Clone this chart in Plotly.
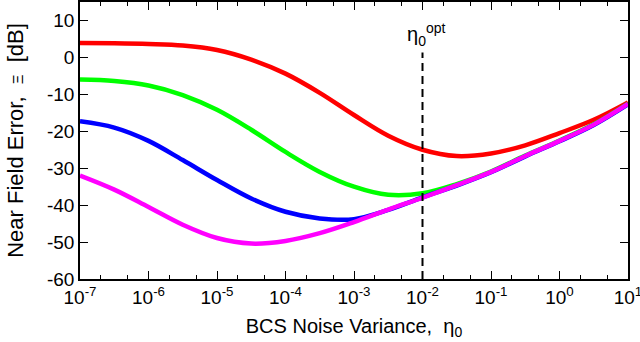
import numpy as np
import plotly.graph_objects as go

# x positions as log10 exponents of the BCS noise variance
log_eta = [-7, -6.5, -6, -5.5, -5, -4.5, -4, -3.5, -3, -2.5, -2, -1.5, -1, -0.5, 0, 0.5, 1]

err_red = [3.9, 3.8, 3.6, 3.2, 2.0, -0.6, -4.4, -9.6, -15.6, -21.2, -25.0, -26.7, -26.0, -23.8, -20.5, -16.9, -12.2]
err_green = [-6.0, -6.4, -7.6, -10.2, -14.2, -19.6, -25.6, -31.0, -35.0, -37.2, -36.8, -34.3, -30.9, -26.6, -22.5, -18.1, -12.5]
err_blue = [-17.3, -19.0, -22.6, -27.8, -33.2, -38.2, -41.8, -43.6, -43.8, -41.3, -37.9, -34.7, -31.1, -26.8, -22.7, -18.3, -12.7]
err_magenta = [-32.0, -35.8, -40.5, -45.3, -48.9, -50.4, -49.7, -47.6, -44.6, -41.2, -38.0, -34.6, -31.0, -26.7, -22.6, -18.2, -12.6]

eta_opt = 1e-2
x_tick_exp = list(range(-7, 2))
y_ticks = list(range(-60, 11, 10))

eta = [10.0**v for v in log_eta]

fig = go.Figure()
for ys, col in [(err_red, "#ff0000"), (err_green, "#00ff00"),
                (err_blue, "#0000ff"), (err_magenta, "#ff00ff")]:
    fig.add_trace(go.Scatter(x=eta, y=ys, mode="lines",
                             line=dict(color=col, width=4.5, shape="spline", smoothing=1.0),
                             showlegend=False, hoverinfo="skip"))

# optimal noise variance marker
fig.add_trace(go.Scatter(x=[eta_opt, eta_opt], y=[-60, 1.3], mode="lines",
                         line=dict(color="black", width=2, dash="8px,5px"),
                         showlegend=False, hoverinfo="skip"))
fig.add_annotation(x=np.log10(eta_opt), y=1.8, xref="x", yref="y",
                   text="η<sub>0</sub><sup>opt</sup>", showarrow=False,
                   yanchor="bottom", xanchor="center", xshift=3,
                   font=dict(size=20, color="black"))

tick_font = dict(family="Liberation Sans", size=19, color="black")
title_font = dict(family="Liberation Sans", size=20, color="black")

fig.update_xaxes(type="log", range=[-7, 1], tickvals=[10.0**k for k in x_tick_exp],
                 ticktext=["10<sup>%d</sup>" % k for k in x_tick_exp],
                 ticklabeloverflow="allow",
                 ticks="inside", ticklen=8, tickwidth=1.2,
                 tickcolor="black", showline=True, linecolor="black", linewidth=1.5,
                 mirror="allticks", showgrid=False, zeroline=False, tickfont=tick_font,
                 automargin=False,
                 minor=dict(ticks="inside", ticklen=4, tickwidth=1, tickcolor="black",
                            dtick="D2", showgrid=False),
                 title=dict(text="BCS Noise Variance,\u00a0\u00a0η<sub>0</sub>",
                            font=title_font, standoff=12))
fig.update_yaxes(range=[-60, 15], tickvals=y_ticks, ticktext=["%d" % v for v in y_ticks],
                 ticks="inside", ticklen=8, tickwidth=1.2,
                 tickcolor="black", showline=True, linecolor="black", linewidth=1.5,
                 mirror="allticks", showgrid=False, zeroline=False, tickfont=tick_font,
                 automargin=False,
                 title=dict(text="Near Field Error,\u00a0\u00a0<span style='font-size:15px'>Ξ</span>\u00a0\u00a0[dB]",
                            font=dict(family="Liberation Sans", size=22, color="black"),
                            standoff=17))

fig.update_layout(width=640, height=342, margin=dict(l=80, r=12, t=2, b=63),
                  plot_bgcolor="white", paper_bgcolor="white",
                  font=tick_font)

fig.write_html("out.html", config={"displayModeBar": False},
               post_script="document.body.style.margin='0px';")
